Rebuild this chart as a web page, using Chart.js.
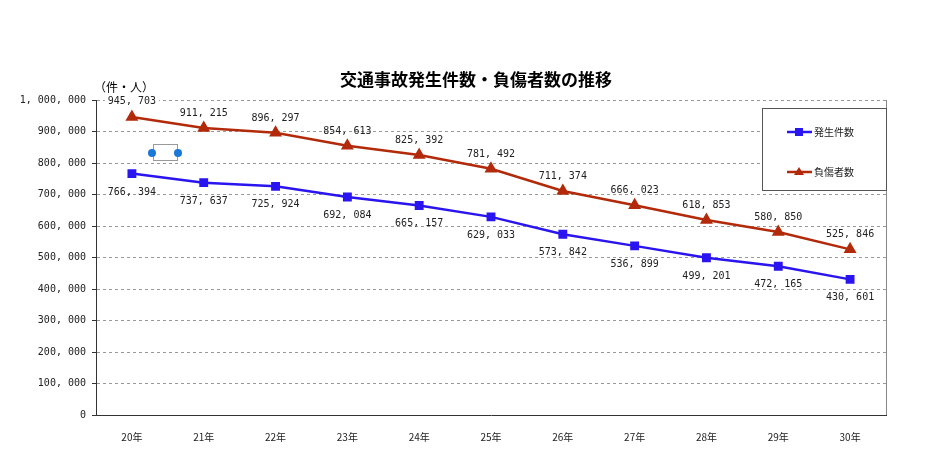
<!DOCTYPE html>
<html><head><meta charset="utf-8">
<script src="https://cdn.jsdelivr.net/npm/chart.js@4"></script>
<style>html,body{margin:0;padding:0;background:#fff}#w{width:951px;height:468px}</style>
</head><body><div id="w"><canvas id="c"></canvas></div>
<script>
const categories=['20年','21年','22年','23年','24年','25年','26年','27年','28年','29年','30年'];
const accidents=[766394,737637,725924,692084,665157,629033,573842,536899,499201,472165,430601];
const injured=[945703,911215,896297,854613,825392,781492,711374,666023,618853,580850,525846];
const yTicks=[0,100000,200000,300000,400000,500000,600000,700000,800000,900000,1000000];
const seriesNames=['発生件数','負傷者数'];
const colors=['#2a14f0','#b22a0a'];
const fmt=v=>v.toLocaleString('en-US').replace(/,/g,', ');
const JP='"Noto Sans CJK JP"';
const deco={id:'deco',afterDatasetsDraw(ch){
 const c=ch.ctx,a=ch.chartArea;c.save();
 c.strokeStyle='#888';c.lineWidth=1;c.strokeRect(a.right+0.5,a.top,0,a.bottom-a.top);
 c.font='10px "DejaVu Sans Mono"';c.textAlign='center';c.fillStyle='#222';
 ch.data.datasets.forEach((ds,di)=>{const m=ch.getDatasetMeta(di);
  m.data.forEach((p,i)=>{const t=fmt(ds.data[i]);const y=di===0?p.y+17:(i===0?a.top:p.y-16);
   if(di===1&&i===0){const w=c.measureText(t).width;c.fillStyle='#fff';c.fillRect(p.x-w/2-3,y-7,w+6,13);c.fillStyle='#222';}
   c.fillText(t,p.x,y+4);});});
 c.fillStyle='#fff';c.fillRect(762,108,124,82);c.strokeStyle='#555';c.strokeRect(762.5,108.5,124,82);
 [132,172].forEach((y,i)=>{c.strokeStyle=colors[i];c.lineWidth=2.5;c.beginPath();c.moveTo(787,y);c.lineTo(812,y);c.stroke();
  c.fillStyle=colors[i];c.beginPath();if(i===0)c.rect(795,y-4,8,8);else{c.moveTo(799,y-5);c.lineTo(804,y+3);c.lineTo(794,y+3);c.closePath();}c.fill();
  c.fillStyle='#222';c.font='10px '+JP;c.textAlign='left';c.fillText(seriesNames[i],814,y+4);});
 c.fillStyle='#000';c.font='bold 17px '+JP;c.textAlign='center';c.fillText('交通事故発生件数・負傷者数の推移',476,86);
 c.font='12px '+JP;c.textAlign='left';c.fillText('（件・人）',94,92);
 c.strokeStyle='#999';c.lineWidth=1;c.strokeRect(153.5,144.5,24,16);
 c.fillStyle='#1a78d8';[152,178].forEach(x=>{c.beginPath();c.arc(x,153,4,0,7);c.fill();});
 c.restore();}};
new Chart(document.getElementById('c'),{type:'line',
 data:{labels:categories,datasets:[
  {label:seriesNames[0],data:accidents,borderColor:colors[0],backgroundColor:colors[0],borderWidth:2.5,pointStyle:'rect',pointRadius:4.5,tension:0},
  {label:seriesNames[1],data:injured,borderColor:colors[1],backgroundColor:colors[1],borderWidth:2.5,pointStyle:'triangle',pointRadius:5,tension:0}]},
 options:{responsive:true,maintainAspectRatio:false,animation:false,
  layout:{padding:{top:100,right:65,bottom:20,left:0}},
  plugins:{legend:{display:false},tooltip:{enabled:false}},
  scales:{
   x:{offset:true,grid:{display:false},border:{color:'#333'},ticks:{color:'#222',font:{size:10,family:JP},padding:8},afterFit(s){s.height=33;}},
   y:{min:0,max:1000000,afterBuildTicks(s){s.ticks=yTicks.map(v=>({value:v}));},
    ticks:{color:'#222',font:{size:10,family:'"DejaVu Sans Mono"'},callback:v=>fmt(v),padding:6},
    grid:{color:'#999',lineWidth:1,drawTicks:true,tickLength:4,tickBorderDash:[],tickColor:'#333'},border:{color:'#333',dash:[3,3]},
    afterFit(s){s.width=96;}}}},
 plugins:[deco]});
</script></body></html>
